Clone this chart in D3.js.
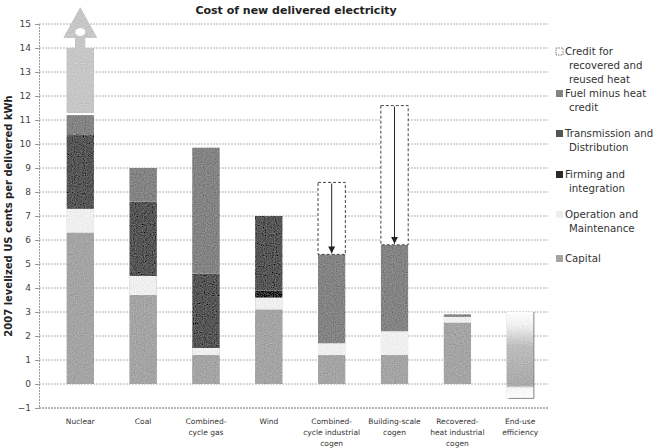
<!DOCTYPE html>
<html><head><meta charset="utf-8">
<script src="https://cdn.jsdelivr.net/npm/d3@7"></script>
<style>
body{margin:0;background:#fff}
text{font-family:Verdana,"DejaVu Sans",sans-serif}
</style>
</head><body>
<svg id="chart" width="660" height="448"></svg>
<script>
// Cost components per technology, 2007 levelized US cents per delivered kWh
const categories = ["Nuclear","Coal","Combined-cycle gas","Wind","Combined-cycle industrial cogen","Building-scale cogen","Recovered-heat industrial cogen","End-use efficiency"];
const categoryLabels = [["Nuclear"],["Coal"],["Combined-","cycle gas"],["Wind"],["Combined-","cycle industrial","cogen"],["Building-scale","cogen"],["Recovered-","heat industrial","cogen"],["End-use","efficiency"]];
const capital      = [6.3, 3.7, 1.2, 3.1, 1.2, 1.2, 2.55, 0];
const operation    = [1.0, 0.8, 0.3, 0.5, 0.5, 1.0, 0.25, 0];
const firming      = [0,   0,   0,   0.3, 0,   0,   0,    0];
const transmission = [3.1, 3.1, 3.1, 3.1, 0,   0,   0,    0];
const fuel         = [0.8, 1.4, 5.25,0,   3.7, 3.6, 0.1,  0];
const heatCredit   = [0,   0,   0,   0,   3.0, 5.8, 0,    0];
// Nuclear upper estimate: bottom, top of block, arrow tip
const nuclearUpper = [11.3, 14.0, 15.7];
// End-use efficiency cost range
const efficiencyRange = [-0.6, 3.0];
const yTicks = d3.range(-1, 16);
const seriesKeys = ["capital","operation","firming","transmission","fuel","heatCredit"];
const seriesNames = {
  heatCredit: ["Credit for","recovered and","reused heat"],
  fuel: ["Fuel minus heat","credit"],
  transmission: ["Transmission and","Distribution"],
  firming: ["Firming and","integration"],
  operation: ["Operation and","Maintenance"],
  capital: ["Capital"]
};
const fills = {capital:"#a4a4a4", operation:"#efefef", firming:"#2a2a2a", transmission:"#555555", fuel:"#838383", heatCredit:"#ffffff"};

const rows = categories.map((c,i)=>({category:c, capital:capital[i], operation:operation[i], firming:firming[i], transmission:transmission[i], fuel:fuel[i], heatCredit:heatCredit[i]}));

const svg = d3.select("#chart");
const defs = svg.append("defs");

// printed stipple texture on the filled marks
const grain = defs.append("filter").attr("id","grain").attr("x",0).attr("y",0).attr("width",1).attr("height",1);
grain.append("feTurbulence").attr("type","fractalNoise").attr("baseFrequency",0.9).attr("numOctaves",1).attr("seed",3).attr("result","noise");
grain.append("feColorMatrix").attr("in","noise").attr("type","matrix")
  .attr("values","0.33 0.33 0.33 0 0  0.33 0.33 0.33 0 0  0.33 0.33 0.33 0 0  0 0 0 0 1").attr("result","gray");
grain.append("feComposite").attr("in","SourceGraphic").attr("in2","gray").attr("operator","arithmetic")
  .attr("k1",0).attr("k2",1).attr("k3",0.55).attr("k4",-0.27).attr("result","mix");
grain.append("feComposite").attr("in","mix").attr("in2","SourceGraphic").attr("operator","in");

const plotLeft = 39, plotRight = 549;
const x = d3.scaleBand().domain(categories).range([49, 551.5]).paddingInner(0.565).paddingOuter(0.28);
const y = d3.scaleLinear().domain([-1, 15]).range([408, 24]);

// grid
svg.append("g").selectAll("line").data(yTicks).join("line")
  .attr("x1", plotLeft).attr("x2", plotRight)
  .attr("y1", d=>y(d)).attr("y2", d=>y(d))
  .attr("stroke", "#a0a0a0").attr("stroke-width", 0.8).attr("stroke-dasharray", "2,1");

// y axis
const yAxis = d3.axisLeft(y).tickValues(yTicks).tickSize(4).tickPadding(4);
const ga = svg.append("g").attr("transform", `translate(${plotLeft},0)`).call(yAxis);
ga.select(".domain").attr("stroke", "#9a9a9a").attr("stroke-dasharray", "2,1");
ga.selectAll(".tick line").attr("stroke", "#9a9a9a");
ga.selectAll(".tick text").attr("font-size", 9).attr("fill", "#444").attr("font-family", "Verdana, DejaVu Sans, sans-serif");

// x axis line at the bottom
svg.append("line").attr("x1", plotLeft).attr("x2", plotRight).attr("y1", y(-1)).attr("y2", y(-1))
  .attr("stroke", "#8a8a8a").attr("stroke-width", 0.9).attr("stroke-dasharray", "2,1");

// category labels
const gl = svg.append("g");
categoryLabels.forEach((lines,i)=>{
  const cx = x(categories[i]) + x.bandwidth()/2;
  const t = gl.append("text").attr("x", cx).attr("y", 424)
    .attr("text-anchor","middle").attr("font-size", 7.5).attr("fill", "#333");
  lines.forEach((l,j)=>t.append("tspan").attr("x", cx).attr("dy", j?11:0).text(l));
});

// stacked bars
const stack = d3.stack().keys(seriesKeys)(rows);
const gb = svg.append("g");
stack.forEach(layer=>{
  const key = layer.key;
  gb.append("g").selectAll("rect").data(layer.filter(d=>d[1]-d[0]>0)).join("rect")
    .attr("x", d=>x(d.data.category))
    .attr("width", x.bandwidth())
    .attr("y", d=>y(d[1]))
    .attr("height", d=>y(d[0])-y(d[1]))
    .attr("fill", fills[key])
    .attr("filter", key==="heatCredit" ? null : "url(#grain)")
    .attr("stroke", key==="heatCredit" ? "#444" : "none")
    .attr("stroke-dasharray", key==="heatCredit" ? "3,2" : null)
    .attr("stroke-width", 1);
});

// arrows showing the heat credit reduction
defs.append("marker").attr("id","tri").attr("viewBox","0 0 10 10")
  .attr("refX",10).attr("refY",5).attr("markerWidth",7).attr("markerHeight",7).attr("orient","auto")
  .append("path").attr("d","M0,0L10,5L0,10Z").attr("fill","#222");
stack.find(s=>s.key==="heatCredit").filter(d=>d[1]-d[0]>0).forEach(d=>{
  const cx = x(d.data.category) + x.bandwidth()/2;
  svg.append("line").attr("x1",cx).attr("x2",cx).attr("y1",y(d[1])+1).attr("y2",y(d[0])-1)
    .attr("stroke","#222").attr("stroke-width",1).attr("marker-end","url(#tri)");
});

// nuclear upper range block with arrow
{
  const xn = x("Nuclear"), w = x.bandwidth(), cx = xn + w/2;
  const g = svg.append("g").attr("filter","url(#grain)");
  g.append("rect").attr("x", xn).attr("width", w).attr("y", y(nuclearUpper[1])).attr("height", y(nuclearUpper[0])-y(nuclearUpper[1]))
    .attr("fill", "#c6c6c6");
  const shaftW = 10, headW = 34, headBase = y(nuclearUpper[1]) - 10;
  const p = [[cx-shaftW/2, y(nuclearUpper[1])],[cx-shaftW/2, headBase],[cx-headW/2, headBase],[cx, y(nuclearUpper[2])],
             [cx+headW/2, headBase],[cx+shaftW/2, headBase],[cx+shaftW/2, y(nuclearUpper[1])]];
  g.append("path").attr("d", d3.line()(p)+"Z").attr("fill", "#c6c6c6");
  svg.append("ellipse").attr("cx", cx).attr("cy", headBase-6).attr("rx", 5).attr("ry", 4).attr("fill", "#fff");
}

// end-use efficiency range with fading fill
{
  const grad = defs.append("linearGradient").attr("id","fade").attr("x1",0).attr("x2",0).attr("y1",0).attr("y2",1);
  [[0,"#ffffff"],[0.15,"#f0f0f0"],[0.4,"#bcbcbc"],[0.85,"#a8a8a8"],[0.88,"#f4f4f4"],[1,"#ffffff"]]
    .forEach(s=>grad.append("stop").attr("offset",s[0]).attr("stop-color",s[1]));
  const xe = x("End-use efficiency"), w = x.bandwidth();
  svg.append("rect").attr("x", xe).attr("width", w).attr("y", y(efficiencyRange[1])).attr("height", y(efficiencyRange[0])-y(efficiencyRange[1]))
    .attr("fill", "url(#fade)").attr("filter","url(#grain)");
  svg.append("path").attr("d", `M${xe+w},${y(efficiencyRange[1])}V${y(efficiencyRange[0])}H${xe+2}`)
    .attr("fill","none").attr("stroke","#888").attr("stroke-width",1);
}

// title
svg.append("text").attr("x", 296).attr("y", 14).attr("text-anchor","middle")
  .attr("font-size", 11).attr("font-weight","bold").attr("fill","#222").text("Cost of new delivered electricity");

// y axis title
svg.append("text").attr("transform", `translate(12,${y(7)}) rotate(-90)`).attr("text-anchor","middle")
  .attr("font-size", 10).attr("font-weight","bold").attr("fill","#222").text("2007 levelized US cents per delivered kWh");

// legend
const legendOrder = ["heatCredit","fuel","transmission","firming","operation","capital"];
const legendY = [55, 97, 137, 178, 218, 262];
const lg = svg.append("g");
legendOrder.forEach((k,i)=>{
  const ly = legendY[i];
  lg.append("rect").attr("x", 556).attr("y", ly-7).attr("width", 7).attr("height", 7)
    .attr("fill", fills[k]).attr("stroke", k==="heatCredit" ? "#777" : "none").attr("stroke-dasharray", k==="heatCredit"?"1.5,1":null);
  const t = lg.append("text").attr("x", 565).attr("y", ly).attr("font-size", 10.2).attr("fill", "#333");
  seriesNames[k].forEach((l,j)=>t.append("tspan").attr("x", j?569:565).attr("dy", j?14:0).text(l));
});
</script>
</body></html>
